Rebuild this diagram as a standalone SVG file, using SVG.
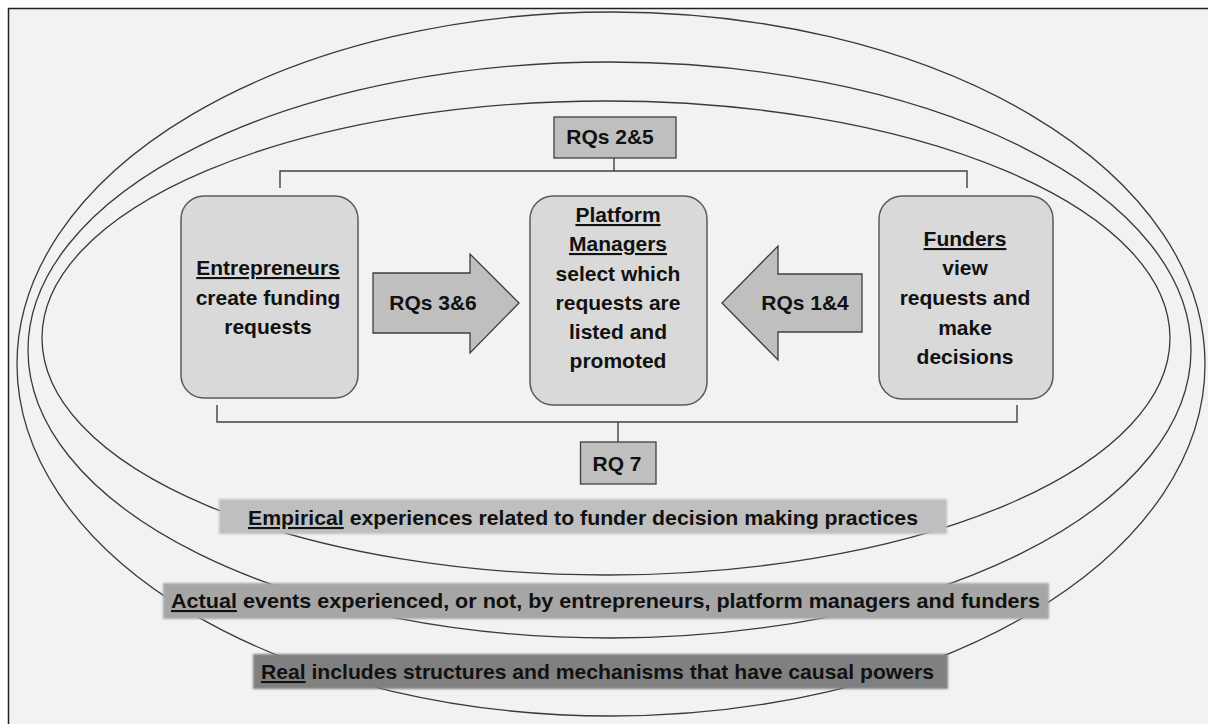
<svg xmlns="http://www.w3.org/2000/svg" width="1208" height="724" viewBox="0 0 1208 724">
  <style>
    .layer { fill: none; stroke: #3a3a3a; stroke-width: 1.3; }
    .node { fill: #d9d9d9; stroke: #5a5a5a; stroke-width: 1.5; }
    .tag { fill: #bfbfbf; stroke: #3f3f3f; stroke-width: 1.3; }
    .wire { fill: none; stroke: #404040; stroke-width: 1.4; }
    .t { font-family: "Liberation Sans", Arial, sans-serif; font-weight: bold; font-size: 21px; fill: #111; text-anchor: middle; }
    .u { text-decoration: underline; }
  </style>
  <defs>
    <filter id="soft" x="-5%" y="-30%" width="110%" height="160%">
      <feGaussianBlur stdDeviation="1.3"/>
    </filter>
  </defs>

  <!-- page -->
  <rect x="0" y="0" width="1208" height="724" fill="#ffffff"/>
  <rect x="8.5" y="8.5" width="1230" height="740" fill="#f2f2f2" stroke="#222" stroke-width="1.5"/>

  <!-- nested domains: real (outer), actual, empirical (inner) -->
  <g id="domains">
    <ellipse class="layer" cx="611" cy="364" rx="594" ry="352"/>
    <ellipse class="layer" cx="609.5" cy="350" rx="581.5" ry="288"/>
    <ellipse class="layer" cx="606" cy="338" rx="564" ry="237"/>
  </g>

  <!-- brackets -->
  <g id="connectors">
    <path class="wire" d="M280 188 V171 H967 V188"/>
    <path class="wire" d="M614 158 V171"/>
    <path class="wire" d="M217 405 V422 H1017 V405"/>
    <path class="wire" d="M618 422 V442"/>
  </g>

  <g id="entrepreneurs">
    <rect class="node" x="181" y="196" width="177" height="202" rx="23"/>
    <text class="t" x="268" y="275"><tspan class="u">Entrepreneurs</tspan></text>
    <text class="t" x="268" y="305">create funding</text>
    <text class="t" x="268" y="334">requests</text>
  </g>

  <g id="platform-managers">
    <rect class="node" x="530" y="196" width="177" height="209" rx="23"/>
    <text class="t" x="618" y="222"><tspan class="u">Platform</tspan></text>
    <text class="t" x="618" y="251"><tspan class="u">Managers</tspan></text>
    <text class="t" x="618" y="281">select which</text>
    <text class="t" x="618" y="310">requests are</text>
    <text class="t" x="618" y="339">listed and</text>
    <text class="t" x="618" y="368">promoted</text>
  </g>

  <g id="funders">
    <rect class="node" x="879" y="196" width="174" height="203" rx="23"/>
    <text class="t" x="965" y="246"><tspan class="u">Funders</tspan></text>
    <text class="t" x="965" y="275">view</text>
    <text class="t" x="965" y="305">requests and</text>
    <text class="t" x="965" y="335">make</text>
    <text class="t" x="965" y="364">decisions</text>
  </g>

  <g id="rq-2-5">
    <rect class="tag" x="554" y="117" width="122" height="41"/>
    <text class="t" x="610" y="144">RQs 2&amp;5</text>
  </g>

  <g id="rq-7">
    <rect class="tag" x="580.5" y="442" width="75.5" height="42"/>
    <text class="t" x="617" y="471">RQ 7</text>
  </g>

  <g id="rq-3-6">
    <polygon class="tag" points="373,273 470,273 470,254 519,303 470,353 470,333 373,333"/>
    <text class="t" x="433" y="310">RQs 3&amp;6</text>
  </g>

  <g id="rq-1-4">
    <polygon class="tag" points="862,274 778,274 778,246 722,303 778,360 778,332 862,332"/>
    <text class="t" x="805" y="310">RQs 1&amp;4</text>
  </g>

  <g id="empirical">
    <rect x="219" y="499" width="728" height="35" fill="#bfbfbf" filter="url(#soft)"/>
    <text class="t" x="583" y="525" textLength="670" lengthAdjust="spacingAndGlyphs"><tspan class="u">Empirical</tspan> experiences related to funder decision making practices</text>
  </g>

  <g id="actual">
    <rect x="163" y="583" width="886" height="36" fill="#a6a6a6" filter="url(#soft)"/>
    <text class="t" x="605.5" y="608" textLength="869" lengthAdjust="spacingAndGlyphs"><tspan class="u">Actual</tspan> events experienced, or not, by entrepreneurs, platform managers and funders</text>
  </g>

  <g id="real">
    <rect x="253" y="654" width="695" height="35" fill="#808080" filter="url(#soft)"/>
    <text class="t" x="597.5" y="679" textLength="673" lengthAdjust="spacingAndGlyphs"><tspan class="u">Real</tspan> includes structures and mechanisms that have causal powers</text>
  </g>
</svg>
